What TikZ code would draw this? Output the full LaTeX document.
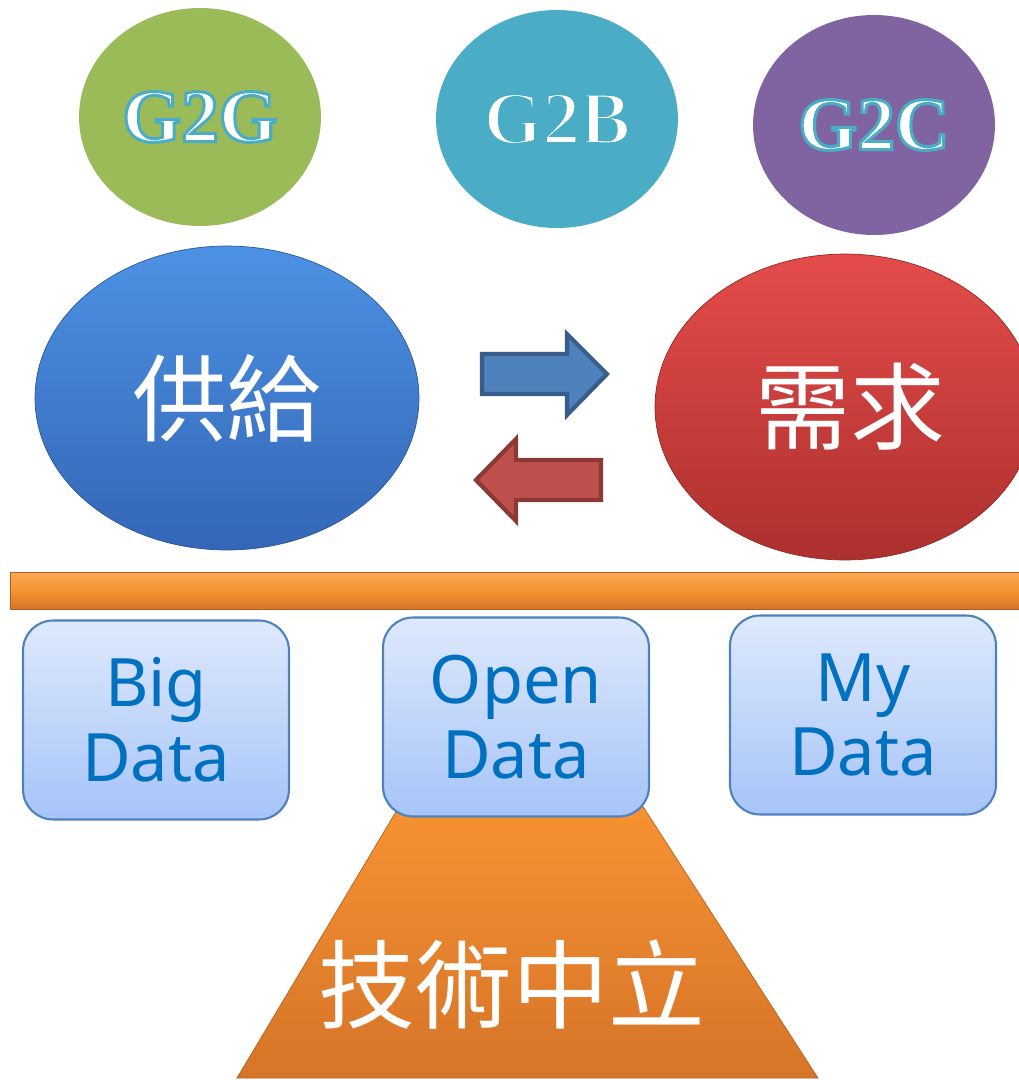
\documentclass[tikz,border=0pt]{standalone}
\usepackage{fontspec}
\usepackage{tikz}
\usetikzlibrary{shapes, positioning, calc}

\newfontfamily\cjkfont{Noto Sans CJK TC}
\newfontfamily\gfont{Liberation Serif Bold}[FakeBold=4]
\newfontfamily\datafont{Noto Sans}
% teal stroke round the white letters
\newcommand{\tealrim}{\special{pdf:literal direct 0.294 0.675 0.776 RG}}

\definecolor{ggreen}{RGB}{155,187,89}
\definecolor{gteal}{RGB}{75,172,198}
\definecolor{gpurple}{RGB}{128,100,162}
\definecolor{supplytop}{RGB}{76,146,228}
\definecolor{supplybot}{RGB}{52,102,182}
\definecolor{demandtop}{RGB}{228,76,74}
\definecolor{demandbot}{RGB}{172,48,46}
\definecolor{bluefill}{RGB}{79,129,189}
\definecolor{blueline}{RGB}{56,93,138}
\definecolor{redfill}{RGB}{192,80,77}
\definecolor{redline}{RGB}{140,56,54}
\definecolor{orangetop}{RGB}{252,168,84}
\definecolor{orangemid}{RGB}{247,146,50}
\definecolor{orangebot}{RGB}{214,116,40}
\definecolor{boxtop}{RGB}{222,233,252}
\definecolor{boxbot}{RGB}{166,196,248}
\definecolor{boxline}{RGB}{79,129,189}
\definecolor{boxtext}{RGB}{0,112,192}

\begin{document}
\begin{tikzpicture}
            [x=0.02cm, y=-0.02cm,
            gov/.style={ellipse, inner sep=0, minimum width=4.84cm, minimum height=4.36cm,
                text=white, font=\gfont\fontsize{43}{43}\selectfont},
            side/.style={ellipse, inner sep=0, text=white,
                font=\cjkfont\fontsize{54}{54}\selectfont},
            databox/.style={rectangle, rounded corners=0.6cm, draw=boxline, line width=1.2pt,
                top color=boxtop, bottom color=boxbot, minimum width=5.32cm, minimum height=3.98cm,
                align=center, text=boxtext, font=\datafont\fontsize{38}{42.5}\selectfont},
            blockarrow/.style={line width=2.4pt, line join=miter}]

            \fill[white] (0,0) rectangle (1019,1080);
            \useasboundingbox (0,0) rectangle (1019,1080);

            % top row
            \node[gov, fill=ggreen] (g2g) at (200,117) {\tealrim G2G};
            \node[gov, fill=gteal] (g2b) at (557,119) {\tealrim G2B};
            \node[gov, fill=gpurple, minimum height=4.4cm] (g2c) at (874,125) {\tealrim G2C};

            % supply and demand
            \node[side, top color=supplytop, bottom color=supplybot, draw=supplybot!85!black, thin,
                minimum width=7.68cm, minimum height=6.08cm] (supply) at (227,398) {供給};
            \node[side, top color=demandtop, bottom color=demandbot, draw=demandbot!85!black, thin,
                minimum width=7.6cm, minimum height=6.12cm] (demand) at (845,407) {\hspace{0.2cm}需求};

            \filldraw[blockarrow, fill=bluefill, draw=blueline]
                (482,354) -- (567,354) -- (567,334) -- (607,374) -- (567,415) -- (567,394) -- (482,394) -- cycle;
            \filldraw[blockarrow, fill=redfill, draw=redline]
                (601,460) -- (516,460) -- (516,439) -- (476,480) -- (516,521) -- (516,500) -- (601,500) -- cycle;

            % beam
            \node[rectangle, inner sep=0, minimum width=20.4cm, minimum height=0.74cm,
                top color=orangetop, bottom color=orangebot, middle color=orangemid,
                draw=orangebot!80!black, thin] (beam) at (520,591) {};

            % pivot
            \shade[top color=orangemid, bottom color=orangebot, draw=orangebot!85!black, thin]
                (400,805) -- (642,805) -- (818,1078) -- (237,1078) -- cycle;
            \node[text=white, font=\cjkfont\fontsize{55}{55}\selectfont] (neutral) at (512,985) {技術中立};

            % data boxes
            \node[databox] (open) at (516,717) {Open\\Data};
            \node[databox] (big) at (156,720) {Big\\Data};
            \node[databox] (my) at (863,715) {My\\Data};

          \end{tikzpicture}
\end{document}
